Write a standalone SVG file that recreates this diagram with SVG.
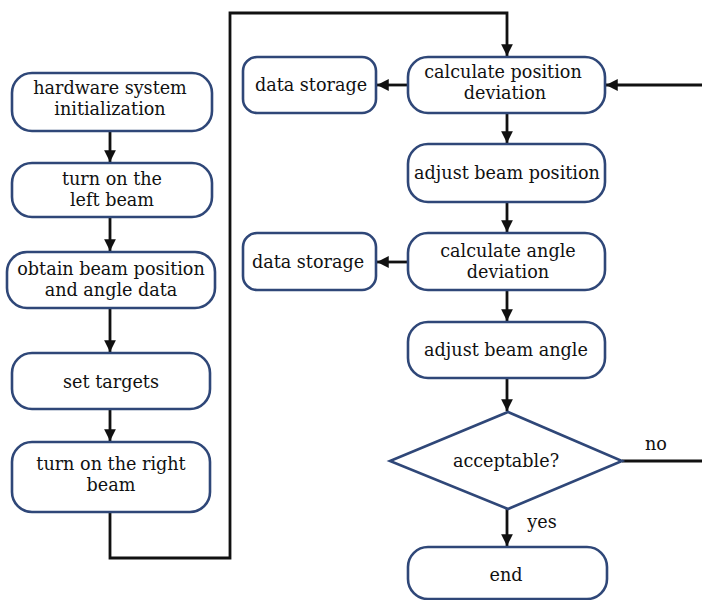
<svg xmlns="http://www.w3.org/2000/svg" width="702" height="600" viewBox="0 0 702 600">
<style>
.box{fill:#fff;stroke:#2f4778;stroke-width:2.6}
.t{font-family:"DejaVu Serif","Liberation Serif",serif;font-size:17.6px;fill:#111;text-anchor:middle}
.c{fill:none;stroke:#111;stroke-width:2.8}
</style>
<defs>
<marker id="ah" viewBox="0 0 10 10" refX="10" refY="5" markerWidth="4.2" markerHeight="4.2" orient="auto" markerUnits="strokeWidth">
<path d="M0,0 L10,5 L0,10 z" fill="#111"/>
</marker>
</defs>
<rect width="702" height="600" fill="#fff"/>
<g id="connectors">
<path class="c" d="M110,131 V162" marker-end="url(#ah)"/>
<path class="c" d="M110,217 V251" marker-end="url(#ah)"/>
<path class="c" d="M110,308 V352" marker-end="url(#ah)"/>
<path class="c" d="M110,409 V441" marker-end="url(#ah)"/>
<path class="c" d="M110,512 V558 H230 V13 H507 V56" marker-end="url(#ah)"/>
<path class="c" d="M408,85 H377" marker-end="url(#ah)"/>
<path class="c" d="M702,85 H606" marker-end="url(#ah)"/>
<path class="c" d="M507,113 V143" marker-end="url(#ah)"/>
<path class="c" d="M507,202 V232" marker-end="url(#ah)"/>
<path class="c" d="M408,262 H377" marker-end="url(#ah)"/>
<path class="c" d="M507,290 V321" marker-end="url(#ah)"/>
<path class="c" d="M507,378 V411" marker-end="url(#ah)"/>
<path class="c" d="M622,461 H702"/>
<path class="c" d="M507,509 V546" marker-end="url(#ah)"/>
<text class="t" x="656" y="450">no</text>
<text class="t" x="542" y="528">yes</text>
</g>
<g id="n1"><rect class="box" x="12" y="73" width="200" height="58" rx="20"/><text class="t" x="110" y="94">hardware system</text><text class="t" x="110" y="114.5">initialization</text></g>
<g id="n2"><rect class="box" x="12" y="163" width="200" height="54" rx="20"/><text class="t" x="112" y="185">turn on the</text><text class="t" x="112" y="205.5">left beam</text></g>
<g id="n3"><rect class="box" x="7" y="252" width="208" height="56" rx="20"/><text class="t" x="111" y="275">obtain beam position</text><text class="t" x="111" y="295.5">and angle data</text></g>
<g id="n4"><rect class="box" x="12" y="353" width="198" height="56" rx="20"/><text class="t" x="111" y="388">set targets</text></g>
<g id="n5"><rect class="box" x="12" y="442" width="198" height="70" rx="20"/><text class="t" x="111" y="470">turn on the right</text><text class="t" x="111" y="490.5">beam</text></g>
<g id="ds1"><rect class="box" x="243" y="57" width="133" height="56" rx="14"/><text class="t" x="311" y="91">data storage</text></g>
<g id="cpd"><rect class="box" x="408" y="57" width="197" height="56" rx="20"/><text class="t" x="503" y="78">calculate position</text><text class="t" x="505" y="98.5">deviation</text></g>
<g id="abp"><rect class="box" x="408" y="144" width="197" height="58" rx="20"/><text class="t" x="507" y="179">adjust beam position</text></g>
<g id="ds2"><rect class="box" x="243" y="233" width="133" height="57" rx="14"/><text class="t" x="308" y="268">data storage</text></g>
<g id="cad"><rect class="box" x="408" y="233" width="197" height="57" rx="20"/><text class="t" x="508" y="257">calculate angle</text><text class="t" x="508" y="277.5">deviation</text></g>
<g id="aba"><rect class="box" x="408" y="322" width="197" height="56" rx="20"/><text class="t" x="506" y="356">adjust beam angle</text></g>
<g id="dec"><path class="box" d="M508,412 L622,461 L508,509 L390,461 z"/><text class="t" x="506" y="467">acceptable?</text></g>
<g id="end"><rect class="box" x="408" y="547" width="199" height="52" rx="20"/><text class="t" x="506" y="581">end</text></g>
</svg>
